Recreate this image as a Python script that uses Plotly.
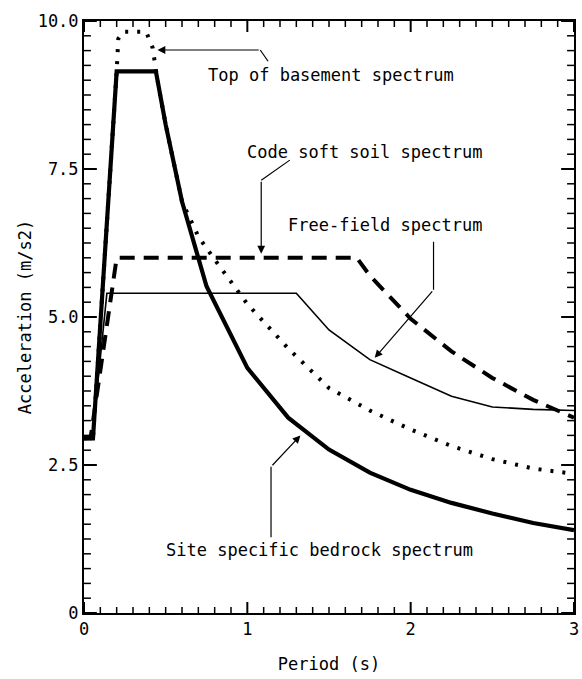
import plotly.graph_objects as go

# ---- data ----
period_bedrock = [0, 0.055, 0.2, 0.44, 0.5, 0.6, 0.75, 1.0, 1.25, 1.5, 1.75, 2.0, 2.25, 2.5, 2.75, 3.0]
accel_bedrock = [2.95, 2.95, 9.15, 9.15, 8.25, 6.95, 5.52, 4.14, 3.3, 2.76, 2.37, 2.08, 1.86, 1.68, 1.52, 1.4]

period_basement = [0, 0.055, 0.2, 0.21, 0.24, 0.38, 0.42, 0.45, 0.5, 0.6, 0.7, 0.8, 1.0, 1.25, 1.5, 1.75, 2.0, 2.25, 2.5, 2.75, 3.0]
accel_basement = [2.95, 2.95, 9.15, 9.7, 9.82, 9.82, 9.55, 9.0, 8.25, 6.95, 6.36, 5.97, 5.22, 4.47, 3.8, 3.42, 3.1, 2.82, 2.6, 2.44, 2.35]

period_code = [0, 0.04, 0.2, 1.67, 1.75, 2.0, 2.25, 2.5, 2.75, 3.0]
accel_code = [2.95, 2.95, 6.0, 6.0, 5.7, 4.97, 4.42, 3.97, 3.6, 3.3]

period_freefield = [0, 0.05, 0.14, 1.3, 1.5, 1.75, 2.0, 2.25, 2.5, 2.75, 3.0]
accel_freefield = [2.95, 2.95, 5.4, 5.4, 4.78, 4.28, 3.97, 3.66, 3.48, 3.44, 3.42]

labels = ["Top of basement spectrum", "Code soft soil spectrum",
          "Free-field spectrum", "Site specific bedrock spectrum"]

FONT = "DejaVu Sans Mono"
FS = 17
X_RANGE = [0, 3]
Y_RANGE = [0, 10]

fig = go.Figure()
fig.add_trace(go.Scatter(x=period_basement, y=accel_basement, mode="lines",
                         line=dict(color="black", width=4, dash="3px,9px"),
                         showlegend=False))
fig.add_trace(go.Scatter(x=period_code, y=accel_code, mode="lines",
                         line=dict(color="black", width=4, dash="15px,9px"),
                         showlegend=False))
fig.add_trace(go.Scatter(x=period_freefield, y=accel_freefield, mode="lines",
                         line=dict(color="black", width=1.6),
                         showlegend=False))
fig.add_trace(go.Scatter(x=period_bedrock, y=accel_bedrock, mode="lines",
                         line=dict(color="black", width=4.2),
                         showlegend=False))

# label positions (data coords): text anchor, leader polyline, arrow tip
label_pos = [
    dict(tx=0.745, ty=9.09, path=[(1.127, 9.32), (1.079, 9.51)], tip=(0.45, 9.51)),
    dict(tx=0.985, ty=7.79, path=[(1.26, 7.65), (1.085, 7.31)], tip=(1.085, 6.07)),
    dict(tx=1.236, ty=6.55, path=[(2.14, 6.27), (2.14, 5.46)], tip=(1.78, 4.31)),
    dict(tx=0.49, ty=1.06, path=[(1.145, 1.28), (1.145, 2.47)], tip=(1.325, 3.0)),
]

for lab, p in zip(labels, label_pos):
    fig.add_annotation(x=p["tx"], y=p["ty"], xref="x", yref="y", text=lab,
                       showarrow=False, xanchor="left", yanchor="middle",
                       font=dict(family=FONT, size=FS, color="black"))
    pts = p["path"]
    for a, b in zip(pts[:-1], pts[1:]):
        fig.add_shape(type="line", x0=a[0], y0=a[1], x1=b[0], y1=b[1],
                      xref="x", yref="y", line=dict(color="black", width=1.2))
    last = pts[-1]
    fig.add_annotation(x=p["tip"][0], y=p["tip"][1], ax=last[0], ay=last[1],
                       xref="x", yref="y", axref="x", ayref="y", text="",
                       showarrow=True, arrowhead=2, arrowsize=1.3, arrowwidth=1.2,
                       arrowcolor="black")

# ---- tick marks on all four sides (inside), drawn as axis decorations ----
W, H = 582, 679
ML, MR, MT, MB = 84, 3, 21, 66
plot_w = W - ML - MR
plot_h = H - MT - MB

# x: minor every 0.1, major every 1
n_x = int(round((X_RANGE[1] - X_RANGE[0]) / 0.1))
for i in range(n_x + 1):
    t = X_RANGE[0] + i * 0.1
    major = (i % 10 == 0)
    ln = (11 if major else 6) / plot_h
    wd = 2 if major else 1.5
    for y0, y1 in ((0, ln), (1, 1 - ln)):
        fig.add_shape(type="line", xref="x", yref="paper", x0=t, x1=t, y0=y0, y1=y1,
                      line=dict(color="black", width=wd), layer="above")

# y: minor every 0.25, major every 2.5
n_y = int(round((Y_RANGE[1] - Y_RANGE[0]) / 0.25))
for j in range(n_y + 1):
    t = Y_RANGE[0] + j * 0.25
    major = (j % 10 == 0)
    ln = (13 if major else 7) / plot_w
    wd = 2 if major else 1.5
    for x0, x1 in ((0, ln), (1, 1 - ln)):
        fig.add_shape(type="line", xref="paper", yref="y", x0=x0, x1=x1, y0=t, y1=t,
                      line=dict(color="black", width=wd), layer="above")

axis_common = dict(showline=True, linecolor="black", linewidth=2, mirror=True,
                   ticks="", showgrid=False, zeroline=False,
                   tickfont=dict(family=FONT, size=FS, color="black"))

fig.update_xaxes(range=X_RANGE, tickmode="linear", tick0=0, dtick=1,
                 ticklabeloverflow="allow",
                 title=dict(text="Period (s)", font=dict(family=FONT, size=FS, color="black"),
                            standoff=20),
                 **axis_common)
fig.update_yaxes(range=Y_RANGE, tickmode="linear", tick0=0, dtick=2.5,
                 tickformat=".1f", labelalias={"0.0": "0"},
                 title=dict(text="Acceleration (m/s2)", font=dict(family=FONT, size=FS, color="black"),
                            standoff=2),
                 **axis_common)

fig.update_layout(width=W, height=H,
                  margin=dict(l=ML, r=MR, t=MT, b=MB, pad=0),
                  paper_bgcolor="white", plot_bgcolor="white",
                  showlegend=False)

fig.write_html("out.html")
